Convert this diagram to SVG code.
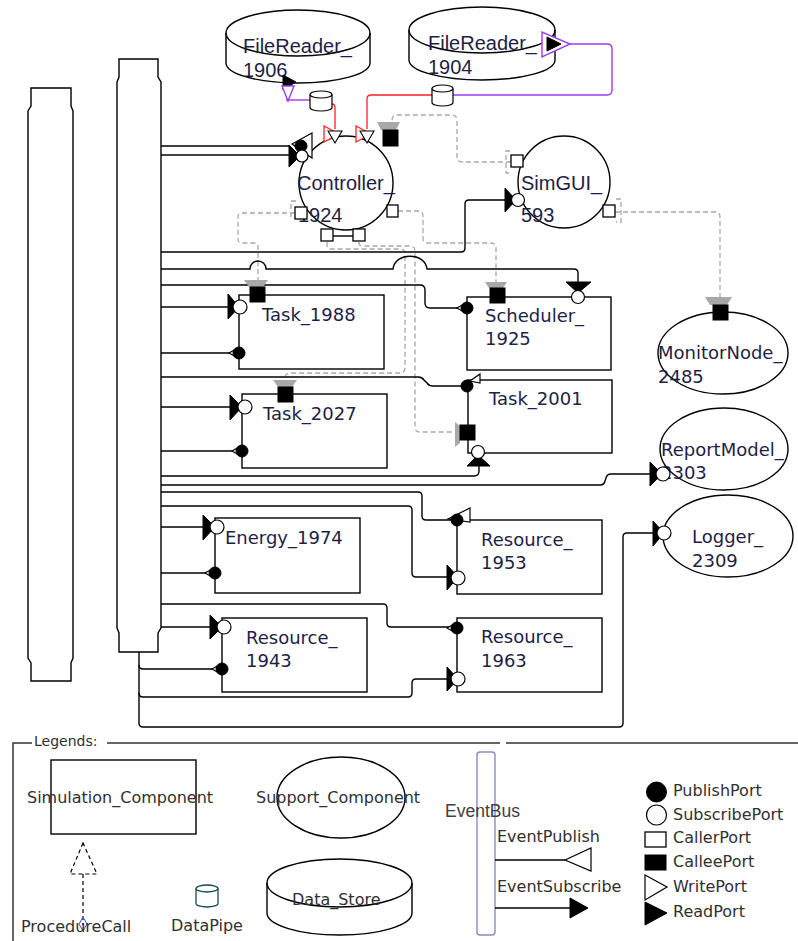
<svg xmlns="http://www.w3.org/2000/svg" width="798" height="941" viewBox="0 0 798 941">
<style>
.ln{fill:none;stroke:#000;stroke-width:1.4}
.pc{fill:none;stroke:#a8a8a8;stroke-width:1.3;stroke-dasharray:5,3}
.nd{fill:#fff;stroke:#000;stroke-width:1.4}
.ndn{fill:none;stroke:#000;stroke-width:1.4}
.t1{font-family:"DejaVu Sans",Verdana,sans-serif;font-size:18px;fill:#1e1e46}
.t2{font-family:"Liberation Sans",Arial,sans-serif;font-size:20px;fill:#1e1e46}
.lg{font-family:"DejaVu Sans",Verdana,sans-serif;font-size:16px;fill:#303030}
.sub{fill:#fff;stroke:#000;stroke-width:1.2}
.blk{fill:#000;stroke:#000;stroke-width:1}
.fun{fill:#a8a8a8}
.clr{fill:#fff;stroke:#000;stroke-width:1.3}
.red{fill:none;stroke:#ff2020;stroke-width:1.3}
.pur{fill:none;stroke:#9a3cf0;stroke-width:1.4}
.pipe{fill:#fff;stroke:#000;stroke-width:1.2}
</style>
<rect width="798" height="941" fill="#fff"/>

<g id="bus_left"><path class="nd" d="M31,88 H71 V106 L73,111 V658 L71,663 V681 H31 V663 L28,658 V111 L31,106 Z"/></g>
<g id="bus_main"><path class="nd" d="M119,59 H158 V77 L161,82 V628 L158,633 V652 H119 V633 L117,628 V82 L119,77 Z"/></g>

<g id="connectors">
  <!-- procedure calls (gray dashed) -->
  <path class="pc" d="M295,213 H242 Q238,213 238,217 V239 Q238,243 242,243 H254 Q258,243 258,247 V281"/>
  <path class="pc" d="M327,242 V245 Q327,249 331,249 H400 Q405,249 405,254 V368 Q405,373 400,373 H290 Q285,373 285,378 V381"/>
  <path class="pc" d="M359,242 V243 Q359,246 363,246 H410 Q415,246 415,251 V427 Q415,432 420,432 H456"/>
  <path class="pc" d="M398,211 H418 Q423,211 423,216 V238 Q423,243 428,243 H491 Q496,243 496,248 V283"/>
  <path class="pc" d="M511,162 H462 Q457,162 457,157 V120 Q457,115 452,115 H397 Q392,115 392,120 V123"/>
  <path class="pc" d="M615,212 H715 Q720,212 720,217 V298"/>
  <path class="pc" d="M510,151 H506 V173 H510"/>
  <path class="pc" d="M616,199 H621 V222 H616"/>
  <path class="pc" d="M296,201 H291 V217 H296"/>
  <!-- event connectors -->
  <path class="ln" d="M161,146 H290"/>
  <path class="ln" d="M161,155 H289"/>
  <path class="ln" d="M161,252 H461 Q465,252 465,248 V204 Q465,200 469,200 H505"/>
  <path class="ln" d="M161,269 H250 A8,8 0 0 1 266,269 H393 C395,252 425,252 427,269 H574 Q578,269 578,273 V283"/>
  <path class="ln" d="M161,285 H420 Q425,285 425,290 V303 Q425,308 430,308 H461"/>
  <path class="ln" d="M161,307 H228"/>
  <path class="ln" d="M161,353 H233"/>
  <path class="ln" d="M161,377 H418 Q422,377 424,380 L427,383 Q429,386 433,386 H461"/>
  <path class="ln" d="M161,407 H230"/>
  <path class="ln" d="M161,451 H236"/>
  <path class="ln" d="M161,476 H474 Q479,476 479,471 V465"/>
  <path class="ln" d="M161,485 H600 Q604,485 605,481 L606,478 Q607,474 611,474 H650"/>
  <path class="ln" d="M161,492 H418 Q422,492 422,496 V516 Q422,520 426,520 H451"/>
  <path class="ln" d="M161,506 H408 Q412,506 412,510 V573 Q412,577 416,577 H447"/>
  <path class="ln" d="M161,527 H203"/>
  <path class="ln" d="M161,573 H209"/>
  <path class="ln" d="M161,604 H383 Q387,604 387,608 V623 Q387,627 391,627 H451"/>
  <path class="ln" d="M161,627 H210"/>
  <path class="ln" d="M139,652 V723 Q139,727 143,727 H619 Q623,727 623,723 V537 Q623,533 627,533 H653"/>
  <path class="ln" d="M139,665 Q139,669 143,669 H216"/>
  <path class="ln" d="M139,693 Q139,697 143,697 H408 Q412,697 412,693 V683 Q412,679 416,679 H447"/>
  <!-- data pipes -->
  <path class="red" d="M332,104 Q335,104 335,108 V129"/>
  <path class="red" d="M432,95 H371 Q367,95 367,99 V129"/>
  <path class="pur" d="M286,100 H310"/>
  <path class="pur" d="M453,95 H607 Q612,95 612,90 V49 Q612,44 607,44 H570"/>
  <g id="pipe_1"><path class="pipe" d="M310,94.5 V107.5 A11,3.5 0 0 0 332,107.5 V94.5"/><ellipse class="pipe" cx="321" cy="94.5" rx="11" ry="3.5"/></g>
  <g id="pipe_2"><path class="pipe" d="M432,88.5 V102.5 A10.5,3.5 0 0 0 453,102.5 V88.5"/><ellipse class="pipe" cx="442.5" cy="88.5" rx="10.5" ry="3.5"/></g>
</g>

<g id="FileReader_1906">
  <path class="nd" d="M226,33 V63 A72,20 0 0 0 370,63 V33 A72,23 0 0 0 226,33 Z"/>
  <path class="ndn" d="M226,33 A72,23 0 0 0 370,33"/>
  <text class="t2" x="243" y="53">FileReader_</text>
  <text class="t2" x="243" y="77">1906</text>
  <polygon class="blk" points="283,75 283,90 296,82"/>
  <polygon points="282,86 294,86 288,101" fill="#fff" stroke="#9a3cf0" stroke-width="1.4"/>
</g>

<g id="FileReader_1904">
  <path class="nd" d="M409,30 V60 A73,20 0 0 0 555,60 V30 A73,23 0 0 0 409,30 Z"/>
  <path class="ndn" d="M409,30 A73,23 0 0 0 555,30"/>
  <text class="t2" x="428" y="50">FileReader_</text>
  <text class="t2" x="428" y="74">1904</text>
  <polygon points="542,32 542,57 570,44" fill="#fff" stroke="#9a3cf0" stroke-width="1.4"/>
  <polygon class="blk" points="547,37 547,51 561,44"/>
</g>

<g id="Controller_1924">
  <circle class="ndn" cx="346" cy="183" r="47"/>
  <text class="t2" x="297" y="190">Controller_</text>
  <text class="t2" x="298" y="222">1924</text>
  <polygon class="sub" points="312,133 312,158 292,144"/>
  <circle class="blk" cx="301" cy="146" r="6"/>
  <polygon class="blk" points="289,145 289,167 300,156"/>
  <circle class="sub" cx="302" cy="156" r="6"/>
  <polygon points="324,126 324,142 339,134" fill="#fff" stroke="#ff2020" stroke-width="1.3"/>
  <polygon points="328,131 342,131 335,143" fill="#fff" stroke="#000" stroke-width="1.1"/>
  <polygon points="356,126 356,142 371,134" fill="#fff" stroke="#ff2020" stroke-width="1.3"/>
  <polygon points="360,131 374,131 367,143" fill="#fff" stroke="#000" stroke-width="1.1"/>
  <polygon class="fun" points="377,122 400,122 396,130 381,130"/>
  <rect class="blk" x="383" y="130" width="15" height="16"/>
  <path class="ln" d="M333,236 H353"/>
  <rect class="clr" x="295" y="207" width="12" height="12"/>
  <rect class="clr" x="321" y="229" width="12" height="12"/>
  <rect class="clr" x="353" y="229" width="12" height="12"/>
  <rect class="clr" x="387" y="205" width="11" height="12"/>
</g>

<g id="SimGUI_593">
  <circle class="ndn" cx="564" cy="182" r="46"/>
  <text class="t2" x="521" y="190">SimGUI_</text>
  <text class="t2" x="521" y="222">593</text>
  <polygon class="blk" points="505,188 505,212 516,200"/>
  <circle class="sub" cx="518" cy="200" r="6.5"/>
  <rect class="clr" x="511" y="155" width="12" height="12"/>
  <rect class="clr" x="603" y="205" width="12" height="12"/>
</g>

<g id="Task_1988">
  <rect class="ndn" x="239" y="295" width="145" height="74"/>
  <text class="t1" x="262" y="321">Task_1988</text>
  <polygon class="fun" points="244,280 268,280 263,287 249,287"/>
  <rect class="blk" x="250" y="287" width="15" height="15"/>
  <polygon class="blk" points="228,294 228,319 239,307"/>
  <circle class="sub" cx="240" cy="307" r="7"/>
  <polygon class="sub" points="236,349 236,357 229,353"/>
  <circle class="blk" cx="239" cy="353" r="6"/>
</g>

<g id="Scheduler_1925">
  <rect class="ndn" x="467" y="297" width="144" height="73"/>
  <text class="t1" x="485" y="322">Scheduler_</text>
  <text class="t1" x="485" y="345">1925</text>
  <polygon class="fun" points="485,282 507,282 503,288 489,288"/>
  <rect class="blk" x="490" y="288" width="15" height="15"/>
  <polygon class="blk" points="566,282 591,282 578,293"/>
  <circle class="sub" cx="578" cy="297" r="6.5"/>
  <polygon class="sub" points="464,304 464,312 457,308"/>
  <circle class="blk" cx="467" cy="308" r="6"/>
</g>

<g id="Task_2027">
  <rect class="ndn" x="242" y="394" width="145" height="74"/>
  <text class="t1" x="263" y="420">Task_2027</text>
  <polygon class="fun" points="273,380 297,380 292,387 278,387"/>
  <rect class="blk" x="278" y="387" width="15" height="15"/>
  <polygon class="blk" points="230,395 230,420 242,407"/>
  <circle class="sub" cx="245" cy="407" r="7"/>
  <polygon class="sub" points="239,447 239,455 232,451"/>
  <circle class="blk" cx="242" cy="451" r="6"/>
</g>

<g id="Task_2001">
  <rect class="ndn" x="468" y="380" width="144" height="73"/>
  <text class="t1" x="489" y="405">Task_2001</text>
  <polygon class="sub" points="480,374 480,383 470,381"/>
  <circle class="blk" cx="467" cy="386" r="6"/>
  <polygon class="fun" points="455,422 460,426 460,443 455,447"/>
  <rect class="blk" x="460" y="425" width="15" height="15"/>
  <polygon class="blk" points="467,466 490,466 478,455"/>
  <circle class="sub" cx="478" cy="452" r="6.5"/>
</g>

<g id="MonitorNode_2485">
  <ellipse class="ndn" cx="723" cy="353" rx="65" ry="41"/>
  <text class="t1" x="658" y="359">MonitorNode_</text>
  <text class="t1" x="658" y="383">2485</text>
  <polygon class="fun" points="705,297 732,297 727,305 710,305"/>
  <rect class="blk" x="713" y="305" width="15" height="15"/>
</g>

<g id="ReportModel_2303">
  <ellipse class="ndn" cx="724" cy="449" rx="64" ry="41"/>
  <text class="t1" x="661" y="456">ReportModel_</text>
  <text class="t1" x="661" y="479">2303</text>
  <polygon class="blk" points="650,462 650,486 662,474"/>
  <circle class="sub" cx="663" cy="474" r="7"/>
</g>

<g id="Energy_1974">
  <rect class="ndn" x="215" y="518" width="145" height="75"/>
  <text class="t1" x="225" y="544">Energy_1974</text>
  <polygon class="blk" points="203,515 203,540 215,527"/>
  <circle class="sub" cx="217" cy="527" r="7"/>
  <polygon class="sub" points="212,569 212,577 205,573"/>
  <circle class="blk" cx="215" cy="573" r="6"/>
</g>

<g id="Resource_1953">
  <rect class="ndn" x="457" y="520" width="145" height="74"/>
  <text class="t1" x="481" y="546">Resource_</text>
  <text class="t1" x="481" y="569">1953</text>
  <polygon class="sub" points="470,508 470,522 448,519"/>
  <circle class="blk" cx="457" cy="520" r="6"/>
  <polygon class="blk" points="447,565 447,590 458,577"/>
  <circle class="sub" cx="458" cy="578" r="7"/>
</g>

<g id="Resource_1943">
  <rect class="ndn" x="222" y="618" width="145" height="74"/>
  <text class="t1" x="246" y="644">Resource_</text>
  <text class="t1" x="246" y="667">1943</text>
  <polygon class="blk" points="210,615 210,639 222,627"/>
  <circle class="sub" cx="224" cy="627" r="7"/>
  <polygon class="sub" points="219,665 219,673 212,669"/>
  <circle class="blk" cx="222" cy="669" r="6"/>
</g>

<g id="Resource_1963">
  <rect class="ndn" x="457" y="618" width="145" height="74"/>
  <text class="t1" x="481" y="643">Resource_</text>
  <text class="t1" x="481" y="667">1963</text>
  <polygon class="sub" points="454,624 454,632 447,628"/>
  <circle class="blk" cx="457" cy="628" r="6"/>
  <polygon class="blk" points="447,667 447,691 458,679"/>
  <circle class="sub" cx="458" cy="679" r="7"/>
</g>

<g id="Logger_2309">
  <ellipse class="ndn" cx="728" cy="536" rx="65" ry="41"/>
  <text class="t1" x="692" y="543">Logger_</text>
  <text class="t1" x="692" y="567">2309</text>
  <polygon class="blk" points="653,521 653,546 664,533"/>
  <circle class="sub" cx="664" cy="533" r="7"/>
</g>

<g id="legend">
  <path fill="none" stroke="#333" stroke-width="1.5" d="M13,941 V743 H32 M107,743 H500 M506,743 H798"/>
  <text x="34" y="746" font-family="DejaVu Sans,Verdana,sans-serif" font-size="14" fill="#303030">Legends:</text>
  <rect class="ndn" x="51" y="760" width="145" height="74"/>
  <text class="lg" x="27" y="803">Simulation_Component</text>
  <ellipse class="ndn" cx="341" cy="797.5" rx="64" ry="40.5"/>
  <text class="lg" x="256" y="803">Support_Component</text>
  <polygon points="83,843 70,874 97,874" fill="none" stroke="#000" stroke-width="1.2" stroke-dasharray="4,3"/>
  <path d="M83,874 V925" fill="none" stroke="#000" stroke-width="1.2" stroke-dasharray="4,3"/>
  <polygon points="83,917 87,924 83,931 79,924" fill="none" stroke="#4848ff" stroke-width="1"/>
  <text class="lg" x="21" y="932">ProcedureCall</text>
  <path d="M196,888.5 V903.5 A11,3.5 0 0 0 218,903.5 V888.5" fill="#fff" stroke="#1a4a4a" stroke-width="1.3"/>
  <ellipse cx="207" cy="888.5" rx="11" ry="3.5" fill="#fff" stroke="#1a4a4a" stroke-width="1.3"/>
  <text class="lg" x="171" y="931">DataPipe</text>
  <path class="nd" d="M267,883 V913 A72.5,22 0 0 0 412,913 V883 A72.5,24 0 0 0 267,883 Z"/>
  <path class="ndn" d="M267,883 A72.5,24 0 0 0 412,883"/>
  <text class="lg" x="292" y="905">Data_Store</text>
  <rect x="477" y="752" width="18" height="183" rx="3" fill="#fff" stroke="#8a8ac8" stroke-width="1.4"/>
  <text x="445" y="817" font-family="Liberation Sans,Arial,sans-serif" font-size="17.5" fill="#404040">EventBus</text>
  <text class="lg" x="497" y="842">EventPublish</text>
  <path class="ln" d="M495,860 H565"/>
  <polygon class="sub" points="565,860 591,848 591,871"/>
  <text class="lg" x="497" y="892">EventSubscribe</text>
  <path class="ln" d="M495,908 H571"/>
  <polygon class="blk" points="570,898 570,918 588,908"/>
  <circle class="blk" cx="656.5" cy="792" r="10"/>
  <text class="lg" x="673" y="796">PublishPort</text>
  <circle class="sub" cx="656.5" cy="815" r="10"/>
  <text class="lg" x="673" y="820">SubscribePort</text>
  <rect class="clr" x="645" y="832" width="21" height="15"/>
  <text class="lg" x="673" y="843">CallerPort</text>
  <rect class="blk" x="645" y="855" width="21" height="15"/>
  <text class="lg" x="673" y="867">CalleePort</text>
  <polygon class="sub" points="645,875 645,900 667,887"/>
  <text class="lg" x="673" y="892">WritePort</text>
  <polygon class="blk" points="645,902 645,925 667,913"/>
  <text class="lg" x="673" y="917">ReadPort</text>
</g>
</svg>
